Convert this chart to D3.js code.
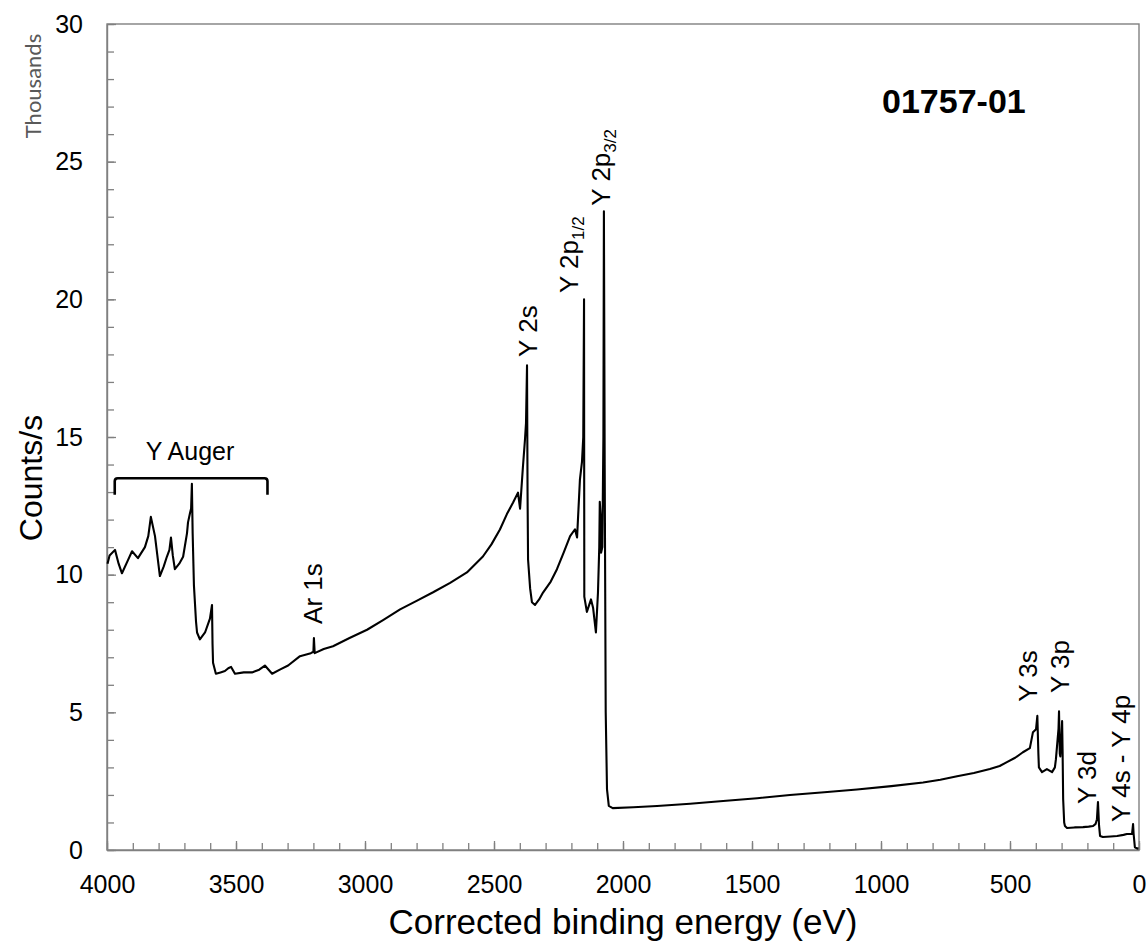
<!DOCTYPE html>
<html>
<head>
<meta charset="utf-8">
<script src="https://cdn.jsdelivr.net/npm/d3@7"></script>
<style>
  body { margin: 0; background: #fff; }
  svg { display: block; }
</style>
</head>
<body>
<div id="chart"></div>
<script>
// size of the page and the plot box
var w = 1148;
var h = 947;
var boxLeft = 107, boxRight = 1139, boxTop = 24, boxBottom = 850;

// spectrum: binding energy (eV) and counts/s
var energy = [3998, 3990, 3969, 3955, 3942, 3920, 3903, 3880, 3853, 3840,
              3830, 3814, 3795, 3780, 3768, 3758, 3752, 3745, 3737, 3720,
              3705, 3690, 3686, 3678, 3674, 3671, 3668, 3663, 3655, 3651,
              3640, 3620, 3601, 3593, 3591, 3589, 3578, 3560, 3543, 3530,
              3519, 3504, 3470, 3438, 3410, 3388, 3360, 3330, 3298, 3252,
              3210, 3200, 3198, 3195, 3160, 3124, 3060, 2992, 2930, 2864,
              2800, 2736, 2670, 2605, 2543, 2510, 2477, 2450, 2426, 2407,
              2399, 2388, 2380, 2376, 2372, 2370, 2368, 2360, 2353, 2341,
              2325, 2310, 2280, 2256, 2230, 2205, 2186, 2178, 2167, 2159,
              2154, 2151, 2150, 2140, 2124, 2116, 2105, 2097, 2092, 2090,
              2087, 2085, 2080, 2076, 2074, 2071, 2067, 2062, 2055, 2040,
              1960, 1868, 1740, 1612, 1480, 1353, 1220, 1093, 960, 837,
              770, 705, 640, 578, 540, 512, 480, 450, 423, 411,
              399, 394, 390, 388, 376, 357, 337, 326, 322, 312,
              310, 307, 305, 301, 298, 296, 294, 290, 287, 279,
              250, 217, 195, 178, 168, 163, 160, 159, 155, 151,
              140, 110, 85, 60, 47, 27, 23, 21, 19, 16,
              8, 2];
var counts = [10400, 10700, 10900, 10400, 10050, 10500, 10850, 10600, 11000, 11400,
              12100, 11400, 9950, 10300, 10650, 10900, 11350, 10700, 10200, 10400,
              10650, 11500, 11900, 12250, 12400, 13300, 11500, 9600, 8300, 7900,
              7650, 7900, 8400, 8900, 7500, 6800, 6400, 6450, 6500, 6600,
              6650, 6400, 6450, 6450, 6550, 6700, 6400, 6550, 6700, 7040,
              7150, 7200, 7700, 7150, 7300, 7400, 7700, 8000, 8350, 8740,
              9050, 9360, 9700, 10080, 10660, 11100, 11640, 12200, 12620, 12980,
              12400, 13900, 14900, 15500, 17600, 13000, 10550, 9500, 9000, 8900,
              9100, 9350, 9750, 10200, 10800, 11400, 11650, 11350, 13450, 14100,
              15000, 20000, 9200, 8650, 9100, 8800, 7900, 9350, 11000, 12650,
              12200, 10800, 11000, 15000, 23200, 14000, 5000, 2200, 1600, 1520,
              1550, 1600, 1680, 1780, 1880, 2000, 2100, 2200, 2320, 2450,
              2550, 2680, 2800, 2940, 3050, 3190, 3350, 3550, 3700, 4280,
              4390, 4870, 3500, 3000, 2830, 2940, 2830, 3000, 3300, 4400,
              5040, 3500, 3400, 4000, 4680, 3500, 1850, 1000, 870, 800,
              820, 830, 850, 870, 950, 1120, 1600, 1740, 900, 510,
              470, 490, 510, 550, 580, 580, 940, 600, 400, 100,
              60, 50];

// ticks
var xMajor = [4000, 3500, 3000, 2500, 2000, 1500, 1000, 500, 0];
var xMinor = d3.range(0, 4001, 100);
var yMajor = [0, 5000, 10000, 15000, 20000, 25000, 30000];
var yMinor = d3.range(0, 30001, 1000);

// peak labels (rotated), anchored at energy / counts
var peakNames = ["Ar 1s", "Y 2s", "Y 2p|1/2", "Y 2p|3/2", "Y 3s", "Y 3p", "Y 3d", "Y 4s - Y 4p"];
var peakE = [3167, 2333, 2174, 2050, 395, 271, 167, 35];
var peakC = [8210, 17910, 20230, 23400, 5380, 5700, 1670, 1020];

// Auger bracket: from, to, top, feet
var augerRange = [3970, 3378];
var augerLevels = [13500, 12900];

var sampleId = "01757-01";

var font = "Arial, 'Liberation Sans', sans-serif";

var svg = d3.select("#chart")
            .append("svg")
            .attr("width", w)
            .attr("height", h);

var x = d3.scaleLinear().domain([4000, 0]).range([boxLeft, boxRight]);
var y = d3.scaleLinear().domain([0, 30000]).range([boxBottom, boxTop]);

// box
svg.append("rect")
   .attr("x", boxLeft)
   .attr("y", boxTop)
   .attr("width", boxRight - boxLeft)
   .attr("height", boxBottom - boxTop)
   .attr("fill", "none")
   .attr("stroke", "#808080")
   .attr("stroke-width", 1.4);

// minor ticks first
svg.append("g")
   .attr("transform", "translate(0," + boxBottom + ")")
   .call(d3.axisBottom(x).tickValues(xMinor).tickSize(-7).tickFormat(""))
   .call(function(g) { g.select(".domain").remove(); });
svg.append("g")
   .attr("transform", "translate(" + boxLeft + ",0)")
   .call(d3.axisLeft(y).tickValues(yMinor).tickSize(-7).tickFormat(""))
   .call(function(g) { g.select(".domain").remove(); });

svg.append("g")
   .attr("transform", "translate(0," + boxBottom + ")")
   .call(d3.axisBottom(x).tickValues(xMajor).tickSizeInner(-9).tickSizeOuter(0).tickPadding(25)
           .tickFormat(d3.format("d")));
svg.append("g")
   .attr("transform", "translate(" + boxLeft + ",0)")
   .call(d3.axisLeft(y).tickValues(yMajor).tickSizeInner(-9).tickSizeOuter(0).tickPadding(24)
           .tickFormat(function(d) { return d / 1000; }));

svg.selectAll(".tick line").attr("stroke", "#808080").attr("stroke-width", 1.3);
svg.selectAll(".domain").attr("stroke", "#808080").attr("stroke-width", 1.4);
svg.selectAll(".tick text")
   .attr("font-family", font)
   .attr("font-size", "25px")
   .attr("fill", "#000");

// axis titles
svg.append("text")
   .text("Corrected binding energy (eV)")
   .attr("x", 623)
   .attr("y", 934)
   .attr("text-anchor", "middle")
   .attr("font-family", font)
   .attr("font-size", "35px");

svg.append("text")
   .text("Counts/s")
   .attr("transform", "translate(42,478) rotate(-90)")
   .attr("text-anchor", "middle")
   .attr("font-family", font)
   .attr("font-size", "32px");

svg.append("text")
   .text("Thousands")
   .attr("transform", "translate(41,86) rotate(-90)")
   .attr("text-anchor", "middle")
   .attr("font-family", "Lato, 'Open Sans', sans-serif")
   .attr("font-size", "22px")
   .attr("fill", "#595959");

// spectrum
var points = energy.map(function(e, i) { return [e, counts[i]]; });
var line = d3.line()
             .x(function(d) { return x(d[0]); })
             .y(function(d) { return y(d[1]); });

svg.append("path")
   .datum(points)
   .attr("d", line)
   .attr("fill", "none")
   .attr("stroke", "#000")
   .attr("stroke-width", 2.1)
   .attr("stroke-linejoin", "round");

// peak labels
peakNames.forEach(function(name, i) {
    var parts = name.split("|");
    var t = svg.append("text")
       .attr("transform", "translate(" + x(peakE[i]) + "," + y(peakC[i]) + ") rotate(-90)")
       .attr("font-family", font)
       .attr("font-size", "26px");
    t.append("tspan").text(parts[0]);
    if (parts[1]) {
        t.append("tspan").text(parts[1]).attr("dy", 6).attr("font-size", "17px");
    }
});

// Y Auger bracket
var bx0 = x(augerRange[0]), bx1 = x(augerRange[1]);
var byTop = y(augerLevels[0]), byFoot = y(augerLevels[1]);
svg.append("path")
   .attr("d", "M" + bx0 + "," + byFoot + "L" + bx0 + "," + (byTop + 3) +
              "Q" + bx0 + "," + byTop + " " + (bx0 + 3) + "," + byTop +
              "L" + (bx1 - 3) + "," + byTop +
              "Q" + bx1 + "," + byTop + " " + bx1 + "," + (byTop + 3) +
              "L" + bx1 + "," + byFoot)
   .attr("fill", "none")
   .attr("stroke", "#000")
   .attr("stroke-width", 2.6);

svg.append("text")
   .text("Y Auger")
   .attr("x", x(3678))
   .attr("y", y(14170))
   .attr("text-anchor", "middle")
   .attr("font-family", font)
   .attr("font-size", "25px");

// sample id
svg.append("text")
   .text(sampleId)
   .attr("x", x(996))
   .attr("y", y(26770))
   .attr("font-family", font)
   .attr("font-weight", "bold")
   .attr("font-size", "34px");
</script>
</body>
</html>
